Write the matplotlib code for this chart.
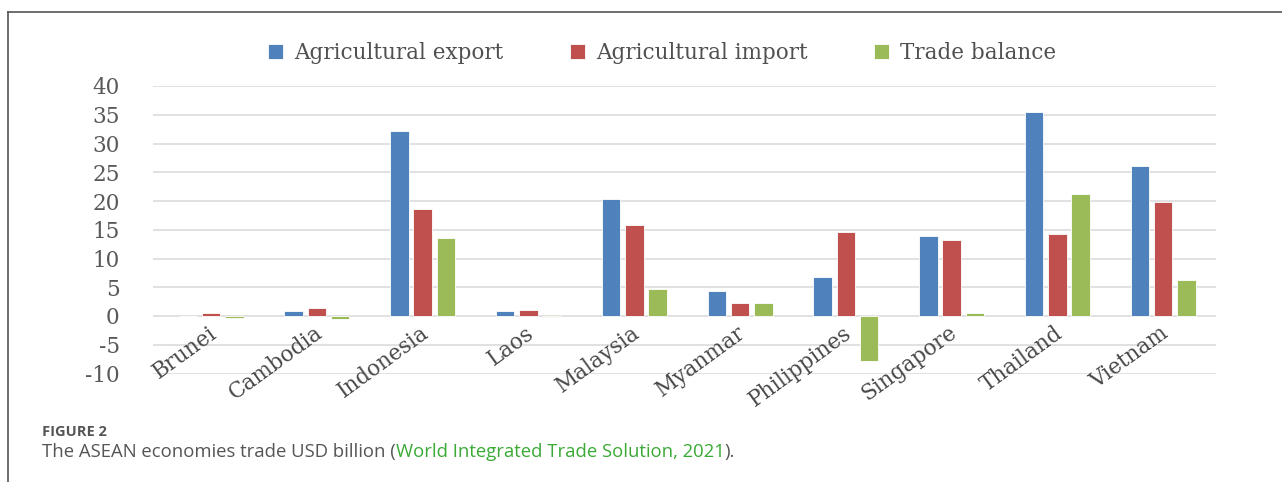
import matplotlib
matplotlib.use("Agg")
import matplotlib.pyplot as plt
import numpy as np
from matplotlib.lines import Line2D

countries = ["Brunei", "Cambodia", "Indonesia", "Laos", "Malaysia",
             "Myanmar", "Philippines", "Singapore", "Thailand", "Vietnam"]
export_vals = [0.0, 0.8, 32.1, 0.8, 20.4, 4.4, 6.7, 13.9, 35.5, 26.1]
import_vals = [0.6, 1.4, 18.6, 1.0, 15.8, 2.3, 14.6, 13.3, 14.2, 19.9]
balance_vals = [-0.4, -0.5, 13.5, -0.1, 4.7, 2.2, -7.8, 0.6, 21.3, 6.3]
series_names = ["Agricultural export", "Agricultural import", "Trade balance"]
yticks = [-10, -5, 0, 5, 10, 15, 20, 25, 30, 35, 40]

colors = ["#4f81bd", "#c0504d", "#9bbb59"]
W, H = 1282, 482
fig = plt.figure(figsize=(W / 100, H / 100), dpi=100)

# frame lines
fig.add_artist(Line2D([8 / W, 1.0], [1 - 12 / H, 1 - 12 / H], color="#555555", lw=1.2))
fig.add_artist(Line2D([8 / W, 8 / W], [1 - 12 / H, 0.0], color="#555555", lw=1.2))

ax = fig.add_axes([153 / W, 1 - 373.5 / H, (1216 - 153) / W, (373.5 - 86) / H])
x = np.arange(len(countries))
bw = 0.175
offs = [-0.22, 0.0, 0.22]
for vals, c, o, name in zip([export_vals, import_vals, balance_vals], colors, offs, series_names):
    ax.bar(x + o, vals, width=bw, color=c, edgecolor="white", linewidth=0.6, label=name, zorder=3)

ax.set_xlim(-0.55, 9.5)
ax.set_ylim(-10, 40)
ax.set_yticks(yticks)
ax.set_yticklabels([str(v) for v in yticks], family="DejaVu Serif", fontsize=15.5, color="#595959")
ax.tick_params(axis="y", length=0, pad=24)
ax.set_xticks([])
for s in ax.spines.values():
    s.set_visible(False)
ax.yaxis.grid(True, color="#dedede", lw=1.3, zorder=0)
ax.set_axisbelow(True)

for i, name in enumerate(countries):
    ax.text(i - 0.03, -1.0, name, rotation=36, rotation_mode="anchor",
            ha="right", va="top", family="DejaVu Serif", fontsize=15.5, color="#484848")

fig.legend(loc="center", bbox_to_anchor=(662 / W, 1 - 53 / H), ncol=3, frameon=False,
           prop={"family": "DejaVu Serif", "size": 15.5}, labelcolor="#505050",
           handlelength=0.7, handleheight=0.7, handletextpad=0.5, columnspacing=3.1)

# caption
fig.text(42 / W, 1 - 432 / H, "FIGURE 2", family="Open Sans", fontweight="bold",
         fontsize=10.5, color="#555555", va="center")
parts = [("The ASEAN economies trade USD billion (", "#555555"),
         ("World Integrated Trade Solution, 2021", "#3aaa35"),
         (").", "#555555")]
fig.canvas.draw()
r = fig.canvas.get_renderer()
xpos = 42
for txt, col in parts:
    t = fig.text(xpos / W, 1 - 452 / H, txt, family="Open Sans", fontsize=13.3, color=col, va="center")
    bb = t.get_window_extent(renderer=r)
    xpos += bb.width

fig.savefig("out.png", dpi=100)
